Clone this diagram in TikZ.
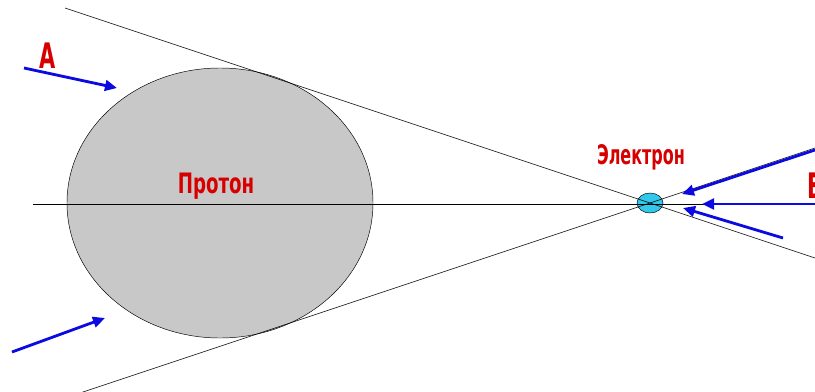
\documentclass[tikz,border=0pt]{standalone}
\usepackage{fontspec}
\newfontfamily\labelfont{DejaVu Sans Condensed}[FakeStretch=0.72]
\newfontfamily\narrowfont{DejaVu Sans Condensed}[FakeStretch=0.66]
\usetikzlibrary{shapes.geometric, arrows.meta}

\definecolor{protongray}{RGB}{200,200,200}
\definecolor{electroncyan}{RGB}{50,200,235}
\definecolor{tagred}{RGB}{215,0,0}
\definecolor{beamblue}{RGB}{10,10,225}

\begin{document}
\begin{tikzpicture}[
        x=0.03cm, y=-0.03cm,
        proton/.style={ellipse, draw=black, fill=protongray, inner sep=0pt, minimum width=9.18cm, minimum height=8.1cm},
        electron/.style={ellipse, draw=black, fill=electroncyan, inner sep=0pt, minimum width=0.78cm, minimum height=0.6cm},
        axis/.style={draw=black, line width=0.5pt},
        beam/.style={draw=beamblue, line width=2.4pt, -{Triangle[length=0.36cm, width=0.32cm]}},
        tag/.style={font=\labelfont\bfseries\fontsize{24}{26}\selectfont, text=tagred, inner sep=0pt},
        narrowtag/.style={tag, font=\narrowfont\bfseries\fontsize{23}{25}\selectfont},
        bigtag/.style={tag, font=\narrowfont\bfseries\fontsize{30}{32}\selectfont}
    ]
        \useasboundingbox (0,0) rectangle (815,391);
        \clip (0,0) rectangle (815,391);

        % particles
        \node[proton] (p) at (220,203) {};
        \node[electron] (e) at (650,203) {};

        % tangent lines and axis
        \coordinate (u1) at (65,8);
        \coordinate (u2) at (815,258);
        \coordinate (l1) at (80,393);
        \coordinate (l2) at (815,148);
        \coordinate (h1) at (33,204);
        \coordinate (h2) at (815,204);
        \draw[axis] (u1) -- (e.center) -- (u2);
        \draw[axis] (l1) -- (e.center) -- (l2);
        \draw[axis] (h1) -- (h2);

        % labels
        \node[tag] (pl) at (216,186) {Протон};
        \node[narrowtag] (el) at (641,157) {Электрон};
        \node[bigtag] (al) at (48,56) {А};
        \node[bigtag, anchor=west] (bl) at (807,186) {Б};

        % incoming beams
        \coordinate (a0) at (24,68);
        \coordinate (a1) at (117,88);
        \coordinate (c0) at (12,352);
        \coordinate (c1) at (105,318);
        \coordinate (b0) at (815,150);
        \coordinate (b1) at (682,194);
        \coordinate (b2) at (815,204);
        \coordinate (b3) at (702,204);
        \coordinate (b4) at (783,238);
        \coordinate (b5) at (683,208);
        \draw[beam] (a0) -- (a1);
        \draw[beam] (c0) -- (c1);
        \draw[beam] (b0) -- (b1);
        \draw[beam] (b2) -- (b3);
        \draw[beam] (b4) -- (b5);
    \end{tikzpicture}
\end{document}
